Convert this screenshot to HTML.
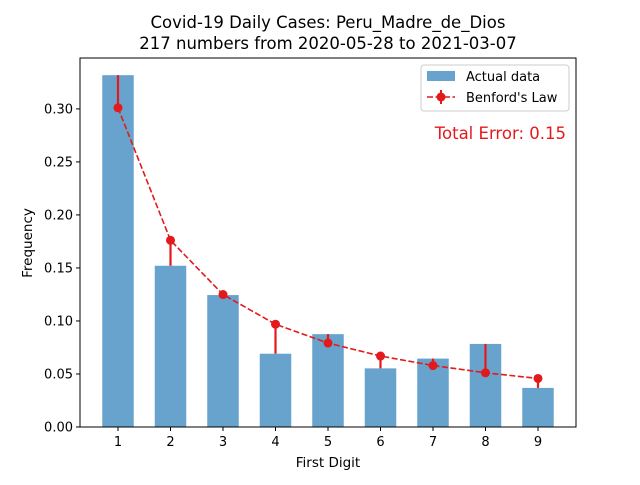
<!DOCTYPE html>
<html><head><meta charset="utf-8"><style>
body{margin:0;background:#fff}
svg text{font-family:"DejaVu Sans","Liberation Sans",sans-serif;fill:#000}
</style></head><body>
<svg id="c" width="640" height="480" xmlns="http://www.w3.org/2000/svg"></svg>
<script>
const digits=[1,2,3,4,5,6,7,8,9];
const counts=[72,33,27,15,19,12,14,17,8];
const total=217;
const yTicks=[0,0.05,0.10,0.15,0.20,0.25,0.30];
const yTickLabels=["0.00","0.05","0.10","0.15","0.20","0.25","0.30"];
const L=80,R=576,T=58,B=427;
const xmin=0.276,xmax=9.724,ymin=0,ymax=0.348;
const X=v=>L+(v-xmin)/(xmax-xmin)*(R-L);
const Y=v=>B-(v-ymin)/(ymax-ymin)*(B-T);
const svg=document.getElementById('c');
const NS='http://www.w3.org/2000/svg';
function mk(tag,attrs,parent){const e=document.createElementNS(NS,tag);for(const k in attrs)e.setAttribute(k,attrs[k]);(parent||svg).appendChild(e);return e;}
const actual=counts.map(c=>c/total);
const benford=digits.map(d=>Math.log10(1+1/d));
digits.forEach((d,i)=>{
  const r=mk('rect',{x:X(d-0.3),y:Y(actual[i]),width:X(d+0.3)-X(d-0.3),height:Y(0)-Y(actual[i]),fill:'#1f77b4','fill-opacity':0.68});
  
  
});
digits.forEach((d,i)=>{
  const l=mk('line',{x1:X(d),x2:X(d),y1:Y(benford[i]),y2:Y(actual[i]),stroke:'#e31a1c','stroke-width':2.2});
  
  
});
const pl=mk('polyline',{points:digits.map((d,i)=>X(d)+','+Y(benford[i])).join(' '),fill:'none',stroke:'#e31a1c','stroke-width':1.6,'stroke-dasharray':'6,2.5'});


digits.forEach((d,i)=>{
  const c=mk('circle',{cx:X(d),cy:Y(benford[i]),r:4.5,fill:'#e31a1c'});
  
  
});
const fr=mk('rect',{x:L,y:T,width:R-L,height:B-T,fill:'none',stroke:'#000','stroke-width':1});


yTicks.forEach((v,i)=>{
  mk('line',{x1:L-4,x2:L,y1:Y(v),y2:Y(v),stroke:'#000'});
  const t=mk('text',{x:L-7,y:Y(v)+4.5,'text-anchor':'end','font-size':13});
  t.textContent=yTickLabels[i];
  
  
});
digits.forEach(d=>{
  mk('line',{x1:X(d),x2:X(d),y1:B,y2:B+4,stroke:'#000'});
  const t=mk('text',{x:X(d),y:B+19,'text-anchor':'middle','font-size':13});
  t.textContent=d;
  
  
});
</script>
<svg style="position:absolute;left:0;top:0" width="640" height="480" xmlns="http://www.w3.org/2000/svg">
<text x="328" y="28" text-anchor="middle" font-size="16.5">Covid-19 Daily Cases: Peru_Madre_de_Dios</text>
<text x="328" y="49" text-anchor="middle" font-size="16.5">217 numbers from 2020-05-28 to 2021-03-07</text>
<text x="328" y="467" text-anchor="middle" font-size="13.5">First Digit</text>
<text x="32" y="243" text-anchor="middle" font-size="13.5" transform="rotate(-90 32 243)">Frequency</text>
<g>
<rect x="421" y="65" width="148" height="46" rx="3" fill="#fff" fill-opacity="0.8" stroke="#ccc"/>
<rect x="427" y="71" width="28" height="10" fill="#1f77b4" fill-opacity="0.68"/>
<text x="466" y="81" font-size="13">Actual data</text>
<line x1="427" x2="455" y1="97" y2="97" stroke="#e31a1c" stroke-width="1.6" stroke-dasharray="6,2.5"/>
<line x1="441" x2="441" y1="90" y2="104" stroke="#e31a1c" stroke-width="2"/>
<circle cx="441" cy="97" r="4.5" fill="#e31a1c"/>
<text x="466" y="102" font-size="13">Benford's Law</text>
</g>
<text x="566" y="139" text-anchor="end" font-size="16.5" style="fill:#e31a1c">Total Error: 0.15</text>
</svg>
</body></html>
